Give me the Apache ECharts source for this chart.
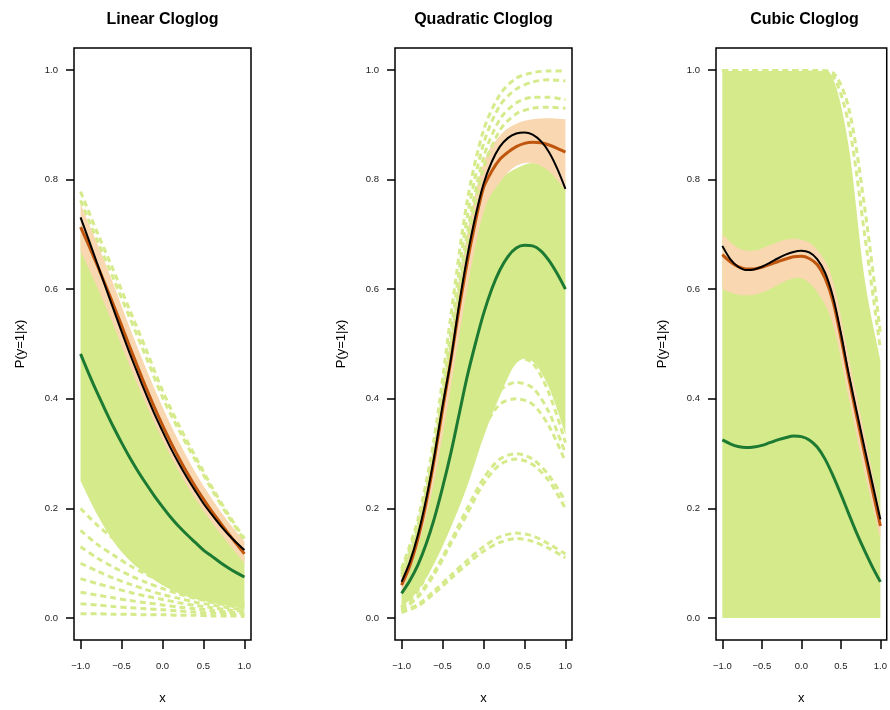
<!DOCTYPE html>
<html><head><meta charset="utf-8">
<script src="https://cdn.jsdelivr.net/npm/echarts@6/dist/echarts.min.js"></script>
<style>html,body{margin:0;padding:0;background:#fff}#c{width:890px;height:710px}</style>
</head><body><div id="c"></div>
<script>
// ---------- data ----------
const xs = [-1,-0.8,-0.6,-0.4,-0.2,0,0.2,0.4,0.6,0.8,1];
const xsFine = [-1,-0.9,-0.8,-0.7,-0.6,-0.5,-0.4,-0.3,-0.2,-0.1,0,0.1,0.2,0.3,0.4,0.5,0.6,0.7,0.8,0.9,1];
const panelTitles = ['Linear Cloglog','Quadratic Cloglog','Cubic Cloglog'];
const xTicks = [-1,-0.5,0,0.5,1];
const yTicks = [0,0.2,0.4,0.6,0.8,1];
const xName = 'x';
const yName = 'P(y=1|x)';

// Panel 1: Linear (main lines on xsFine, envelopes/draws on xs)
const p1Black  = [0.731,0.690,0.648,0.606,0.564,0.523,0.483,0.445,0.408,0.373,0.341,0.310,0.282,0.256,0.232,0.209,0.189,0.170,0.153,0.138,0.124];
const p1Orange = [0.713,0.680,0.645,0.609,0.572,0.534,0.495,0.457,0.420,0.385,0.352,0.321,0.292,0.265,0.240,0.217,0.195,0.175,0.155,0.136,0.117];
const p1Green  = [0.482,0.446,0.412,0.380,0.349,0.320,0.293,0.268,0.245,0.223,0.203,0.184,0.167,0.152,0.138,0.124,0.113,0.102,0.092,0.083,0.075];
const p1BandLo = [0.670,0.605,0.535,0.460,0.390,0.325,0.268,0.218,0.175,0.137,0.100];
const p1BandHi = [0.755,0.685,0.610,0.530,0.455,0.385,0.322,0.266,0.218,0.176,0.140];
const p1FillLo = [0.250,0.190,0.140,0.105,0.080,0.060,0.045,0.035,0.028,0.022,0.018];
const p1FillHi = [0.700,0.640,0.565,0.490,0.415,0.345,0.285,0.235,0.190,0.150,0.115];
const p1Draws = [
  [0.778,0.705,0.635,0.562,0.490,0.415,0.352,0.295,0.240,0.190,0.145],
  [0.762,0.690,0.620,0.548,0.476,0.403,0.343,0.288,0.235,0.186,0.142],
  [0.200,0.170,0.145,0.120,0.100,0.083,0.068,0.055,0.044,0.034,0.026],
  [0.160,0.135,0.115,0.096,0.080,0.066,0.054,0.044,0.035,0.027,0.021],
  [0.130,0.110,0.093,0.078,0.065,0.054,0.044,0.036,0.029,0.023,0.017],
  [0.100,0.086,0.073,0.062,0.052,0.043,0.036,0.029,0.024,0.019,0.015],
  [0.072,0.063,0.055,0.047,0.040,0.034,0.028,0.023,0.019,0.015,0.012],
  [0.047,0.042,0.037,0.032,0.028,0.024,0.020,0.017,0.014,0.011,0.009],
  [0.026,0.024,0.021,0.019,0.017,0.015,0.013,0.011,0.009,0.008,0.006],
  [0.008,0.008,0.007,0.007,0.006,0.006,0.005,0.005,0.004,0.004,0.003]
];

// Panel 2: Quadratic
const p2Black  = [0.066,0.102,0.152,0.217,0.296,0.387,0.470,0.570,0.658,0.732,0.792,0.832,0.860,0.876,0.884,0.886,0.882,0.870,0.850,0.820,0.783];
const p2Orange = [0.060,0.095,0.145,0.210,0.290,0.380,0.468,0.562,0.648,0.722,0.785,0.815,0.837,0.850,0.860,0.866,0.868,0.867,0.863,0.857,0.850];
const p2Green  = [0.045,0.068,0.097,0.135,0.182,0.238,0.300,0.370,0.440,0.500,0.555,0.600,0.635,0.660,0.675,0.680,0.679,0.670,0.652,0.628,0.600];
const p2BandLo = [0.045,0.130,0.250,0.420,0.600,0.740,0.795,0.825,0.830,0.815,0.780];
const p2BandHi = [0.078,0.172,0.320,0.510,0.700,0.830,0.880,0.902,0.910,0.912,0.910];
const p2FillLo = [0.020,0.050,0.100,0.165,0.240,0.330,0.405,0.465,0.468,0.420,0.335];
const p2FillHi = [0.050,0.140,0.270,0.440,0.630,0.760,0.800,0.820,0.830,0.820,0.800];
const p2Draws = [
  [0.090,0.180,0.330,0.550,0.760,0.890,0.955,0.985,0.995,0.998,0.998],
  [0.085,0.170,0.310,0.520,0.730,0.865,0.935,0.965,0.978,0.982,0.980],
  [0.080,0.160,0.300,0.500,0.700,0.840,0.910,0.940,0.950,0.950,0.946],
  [0.075,0.155,0.290,0.480,0.680,0.820,0.890,0.920,0.930,0.932,0.930],
  [0.020,0.060,0.130,0.220,0.320,0.410,0.460,0.475,0.465,0.410,0.320],
  [0.020,0.055,0.120,0.200,0.290,0.370,0.415,0.430,0.420,0.375,0.300],
  [0.018,0.050,0.110,0.185,0.270,0.345,0.390,0.400,0.390,0.350,0.285],
  [0.015,0.040,0.085,0.140,0.200,0.255,0.290,0.300,0.290,0.260,0.213],
  [0.014,0.038,0.080,0.135,0.190,0.245,0.280,0.290,0.280,0.250,0.200],
  [0.012,0.025,0.050,0.078,0.105,0.130,0.148,0.155,0.150,0.135,0.117],
  [0.010,0.022,0.045,0.072,0.098,0.122,0.138,0.145,0.140,0.127,0.110]
];

// Panel 3: Cubic
const p3Black  = [0.679,0.655,0.641,0.635,0.636,0.641,0.648,0.656,0.663,0.668,0.670,0.667,0.655,0.630,0.586,0.520,0.445,0.377,0.310,0.245,0.180];
const p3Orange = [0.663,0.650,0.641,0.637,0.637,0.640,0.645,0.650,0.655,0.659,0.660,0.656,0.645,0.620,0.578,0.512,0.438,0.368,0.300,0.233,0.168];
const p3Green  = [0.325,0.318,0.313,0.311,0.312,0.315,0.320,0.325,0.329,0.332,0.331,0.325,0.312,0.290,0.260,0.226,0.190,0.155,0.123,0.093,0.066];
const p3BandLo = [0.600,0.590,0.590,0.600,0.615,0.620,0.595,0.535,0.400,0.265,0.145];
const p3BandHi = [0.700,0.675,0.670,0.680,0.690,0.690,0.672,0.615,0.475,0.335,0.195];
const p3FillLo = [0.000,0.000,0.000,0.000,0.000,0.000,0.000,0.000,0.000,0.000,0.000];
const p3FillHi = [0.998,0.998,0.998,0.998,0.998,0.998,0.998,0.985,0.860,0.620,0.470];
const p3Draws = [
  [0.999,0.999,0.999,0.999,0.999,0.999,0.999,0.995,0.930,0.750,0.520],
  [0.998,0.998,0.998,0.998,0.998,0.998,0.997,0.990,0.900,0.700,0.490]
];

// ---------- build ----------
const C_GREEN = '#d5ea8b', C_PEACH = '#f9d7b1', C_ORANGE = '#c0560e', C_DKGREEN = '#1d7a32';
const FONT = 'Liberation Sans, Arial, sans-serif';
const panels = [
  {black:p1Black, orange:p1Orange, green:p1Green, bandLo:p1BandLo, bandHi:p1BandHi, fillLo:p1FillLo, fillHi:p1FillHi, draws:p1Draws},
  {black:p2Black, orange:p2Orange, green:p2Green, bandLo:p2BandLo, bandHi:p2BandHi, fillLo:p2FillLo, fillHi:p2FillHi, draws:p2Draws},
  {black:p3Black, orange:p3Orange, green:p3Green, bandLo:p3BandLo, bandHi:p3BandHi, fillLo:p3FillLo, fillHi:p3FillHi, draws:p3Draws}
];
const gridLefts = [74, 395, 716];
const pairs = (xv, ys) => xv.map((x,i) => [x, ys[i]]);
const fmt = v => v.toFixed(1).replace('-', '\u2212');

// Catmull-Rom path segments through pixel points (rendering only)
function crSegs(pts) {
  let d = '';
  for (let i = 0; i < pts.length - 1; i++) {
    const p0 = pts[i - 1] || pts[i], p1 = pts[i], p2 = pts[i + 1], p3 = pts[i + 2] || pts[i + 1];
    const c1 = [p1[0] + (p2[0] - p0[0]) / 6, p1[1] + (p2[1] - p0[1]) / 6];
    const c2 = [p2[0] - (p3[0] - p1[0]) / 6, p2[1] - (p3[1] - p1[1]) / 6];
    d += 'C' + c1[0] + ',' + c1[1] + ' ' + c2[0] + ',' + c2[1] + ' ' + p2[0] + ',' + p2[1];
  }
  return d;
}
function bandSeries(k, lo, hi, color) {
  return {type: 'custom', xAxisIndex: k, yAxisIndex: k, silent: true, data: [[0, 0]],
    renderItem: function (params, api) {
      const top = xs.map((x, i) => api.coord([x, hi[i]]));
      const bot = xs.map((x, i) => api.coord([x, lo[i]])).reverse();
      const d = 'M' + top[0][0] + ',' + top[0][1] + crSegs(top) +
        'L' + bot[0][0] + ',' + bot[0][1] + crSegs(bot) + 'Z';
      return {type: 'path', shape: {pathData: d}, style: {fill: color, stroke: null}};
    }};
}

const grids = [], xAxes = [], yAxes = [], titles = [], series = [];
panels.forEach((p, k) => {
  grids.push({left: gridLefts[k], top: 48, width: 177, height: 600, show: true,
    borderColor: '#000', borderWidth: 1.5, backgroundColor: 'transparent', containLabel: false});
  titles.push({text: panelTitles[k], left: gridLefts[k] + 88.5, top: 12, textAlign: 'center', padding: 0,
    textStyle: {fontSize: 16, fontWeight: 'bold', fontFamily: FONT, color: '#000'}});
  xAxes.push({type: 'value', gridIndex: k, min: -1.08, max: 1.08, splitLine: {show: false},
    axisLine: {show: false, onZero: false},
    axisTick: {show: true, customValues: xTicks, length: 9, lineStyle: {color: '#000', width: 1.5}},
    axisLabel: {customValues: xTicks, formatter: fmt, margin: 21, fontSize: 9.5, color: '#222', fontFamily: FONT},
    name: xName, nameLocation: 'middle', nameGap: 52, nameTextStyle: {fontSize: 13, color: '#000', fontFamily: FONT}});
  yAxes.push({type: 'value', gridIndex: k, min: -0.04, max: 1.04, splitLine: {show: false},
    axisLine: {show: false, onZero: false},
    axisTick: {show: true, customValues: yTicks, length: 8, lineStyle: {color: '#000', width: 1.5}},
    axisLabel: {customValues: yTicks, formatter: fmt, margin: 16, fontSize: 9.5, color: '#222', fontFamily: FONT},
    name: yName, nameLocation: 'middle', nameGap: 47, nameRotate: 90, nameTextStyle: {fontSize: 13, color: '#000', fontFamily: FONT}});

  const base = {type: 'line', xAxisIndex: k, yAxisIndex: k, smooth: 0.3, symbol: 'none', silent: true};
  series.push(bandSeries(k, p.fillLo, p.fillHi, C_GREEN));
  p.draws.forEach(d => series.push(Object.assign({}, base, {data: pairs(xs, d),
    lineStyle: {color: C_GREEN, width: 3, type: [6, 4]}})));
  series.push(bandSeries(k, p.bandLo, p.bandHi, C_PEACH));
  series.push(Object.assign({}, base, {data: pairs(xsFine, p.green), lineStyle: {color: C_DKGREEN, width: 3}}));
  series.push(Object.assign({}, base, {data: pairs(xsFine, p.orange), lineStyle: {color: C_ORANGE, width: 3}}));
  series.push(Object.assign({}, base, {data: pairs(xsFine, p.black), lineStyle: {color: '#000', width: 2}}));
});

const chart = echarts.init(document.getElementById('c'), null, {renderer: 'canvas'});
chart.setOption({animation: false, backgroundColor: '#fff', title: titles, grid: grids,
  xAxis: xAxes, yAxis: yAxes, series: series});
</script></body></html>
